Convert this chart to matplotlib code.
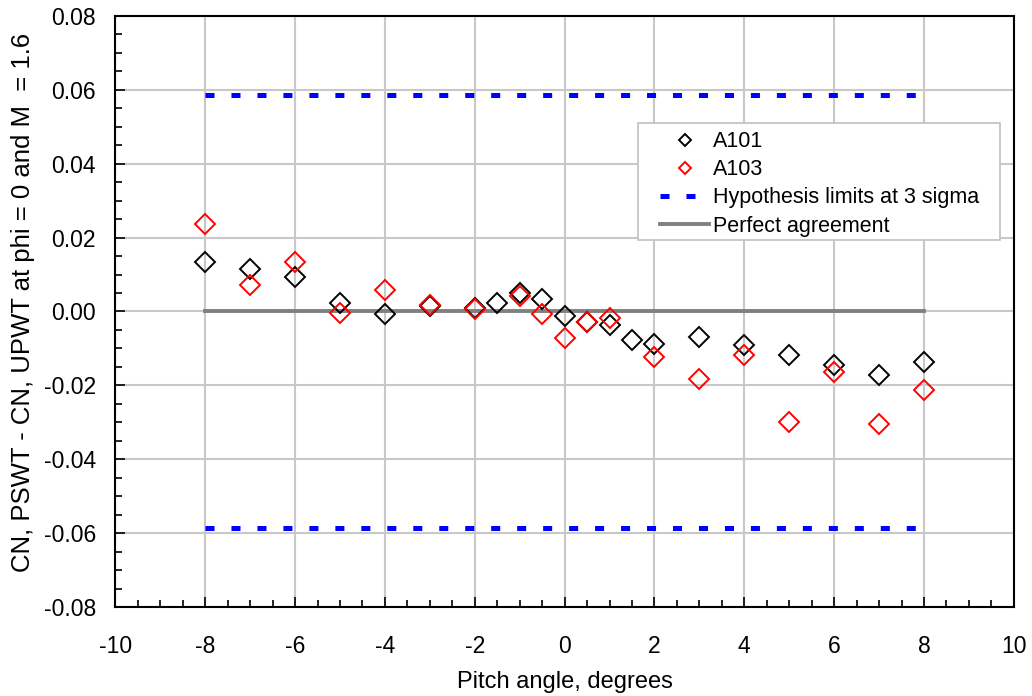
import numpy as np
import matplotlib
matplotlib.use("Agg")
import matplotlib.pyplot as plt
from matplotlib.ticker import MultipleLocator, FuncFormatter
from matplotlib.patches import Rectangle

plt.rcParams['font.family'] = ['Liberation Sans', 'DejaVu Sans']
plt.rcParams['lines.scale_dashes'] = False
plt.rcParams['axes.unicode_minus'] = False

# A101 data
x_a101 = [-8, -7, -6, -5, -4, -3, -2, -1.5, -1, -0.5, 0, 0.5, 1, 1.5, 2, 3, 4, 5, 6, 7, 8]
y_a101 = [0.0134, 0.0116, 0.0093, 0.0022, -0.0006, 0.0014, 0.0010, 0.0024, 0.0049, 0.0033,
          -0.0011, -0.0029, -0.0036, -0.0077, -0.0088, -0.0069, -0.0092, -0.0118, -0.0145,
          -0.0171, -0.0138]

# A103 data
x_a103 = [-8, -7, -6, -5, -4, -3, -2, -1, -0.5, 0, 0.5, 1, 2, 3, 4, 5, 6, 7, 8]
y_a103 = [0.0238, 0.0071, 0.0134, -0.0004, 0.0058, 0.0017, 0.0007, 0.0042, -0.0008, -0.0072,
          -0.0029, -0.0018, -0.0123, -0.0183, -0.0119, -0.0300, -0.0165, -0.0304, -0.0212]

limit_x = [-8, 8]
upper_limit = [0.0587, 0.0587]
lower_limit = [-0.0587, -0.0587]
perfect = [0.0, 0.0]

fig = plt.figure(figsize=(10.32, 6.96), dpi=100)
ax = fig.add_axes([0.1118, 0.1279, 0.8706, 0.8491])

ax.plot(x_a101, y_a101, linestyle='none', marker='D', ms=10, mfc='none', mec='black',
        mew=1.4, label='A101', zorder=4)
ax.plot(x_a103, y_a103, linestyle='none', marker='D', ms=10, mfc='none', mec='red',
        mew=1.4, label='A103', zorder=4)
ax.plot(limit_x, upper_limit, color='blue', lw=3.6, dashes=(6.5, 12.2),
        label='Hypothesis limits at 3 sigma', zorder=3)
ax.plot(limit_x, lower_limit, color='blue', lw=3.6, dashes=(6.5, 12.2), zorder=3)
ax.plot(limit_x, perfect, color='#808080', lw=2.8, label='Perfect agreement', zorder=3)

ax.set_xlim(-10, 10)
ax.set_ylim(-0.08, 0.08)
ax.xaxis.set_major_locator(MultipleLocator(2))
ax.xaxis.set_minor_locator(MultipleLocator(0.5))
ax.yaxis.set_major_locator(MultipleLocator(0.02))
ax.yaxis.set_minor_locator(MultipleLocator(0.005))
ax.yaxis.set_major_formatter(FuncFormatter(lambda v, p: '%.2f' % v))
ax.tick_params(which='both', direction='in', labelsize=16.5, width=1.2, color='black')
ax.tick_params(which='major', length=7)
ax.tick_params(which='minor', length=5)
ax.tick_params(axis='x', which='major', pad=20)
ax.tick_params(axis='y', which='major', pad=14)
ax.grid(True, which='major', color='#c8c8c8', lw=1.5)
ax.set_axisbelow(True)
for s in ax.spines.values():
    s.set_linewidth(1.5)

ax.set_xlabel('Pitch angle, degrees', fontsize=17)
ax.set_ylabel('CN, PSWT - CN, UPWT at phi = 0 and M  = 1.6', fontsize=18.5)
ax.xaxis.set_label_coords(0.5, -0.108)
ax.yaxis.set_label_coords(-0.089, 0.515)

# legend box drawn separately so the padding can match the reference
ax.add_patch(Rectangle((0.5818, 0.621), 0.4027, 0.198, transform=ax.transAxes,
                       facecolor='white', edgecolor='#c0c0c0', lw=1.2, zorder=5))
leg = ax.legend(loc='upper left', bbox_to_anchor=(0.606, 0.805), borderaxespad=0,
                fontsize=15.5, frameon=False, markerscale=0.6, handlelength=2.3,
                handletextpad=0.15, labelspacing=0.33, borderpad=0)
leg.set_zorder(6)

plt.savefig('out.png', dpi=100)
